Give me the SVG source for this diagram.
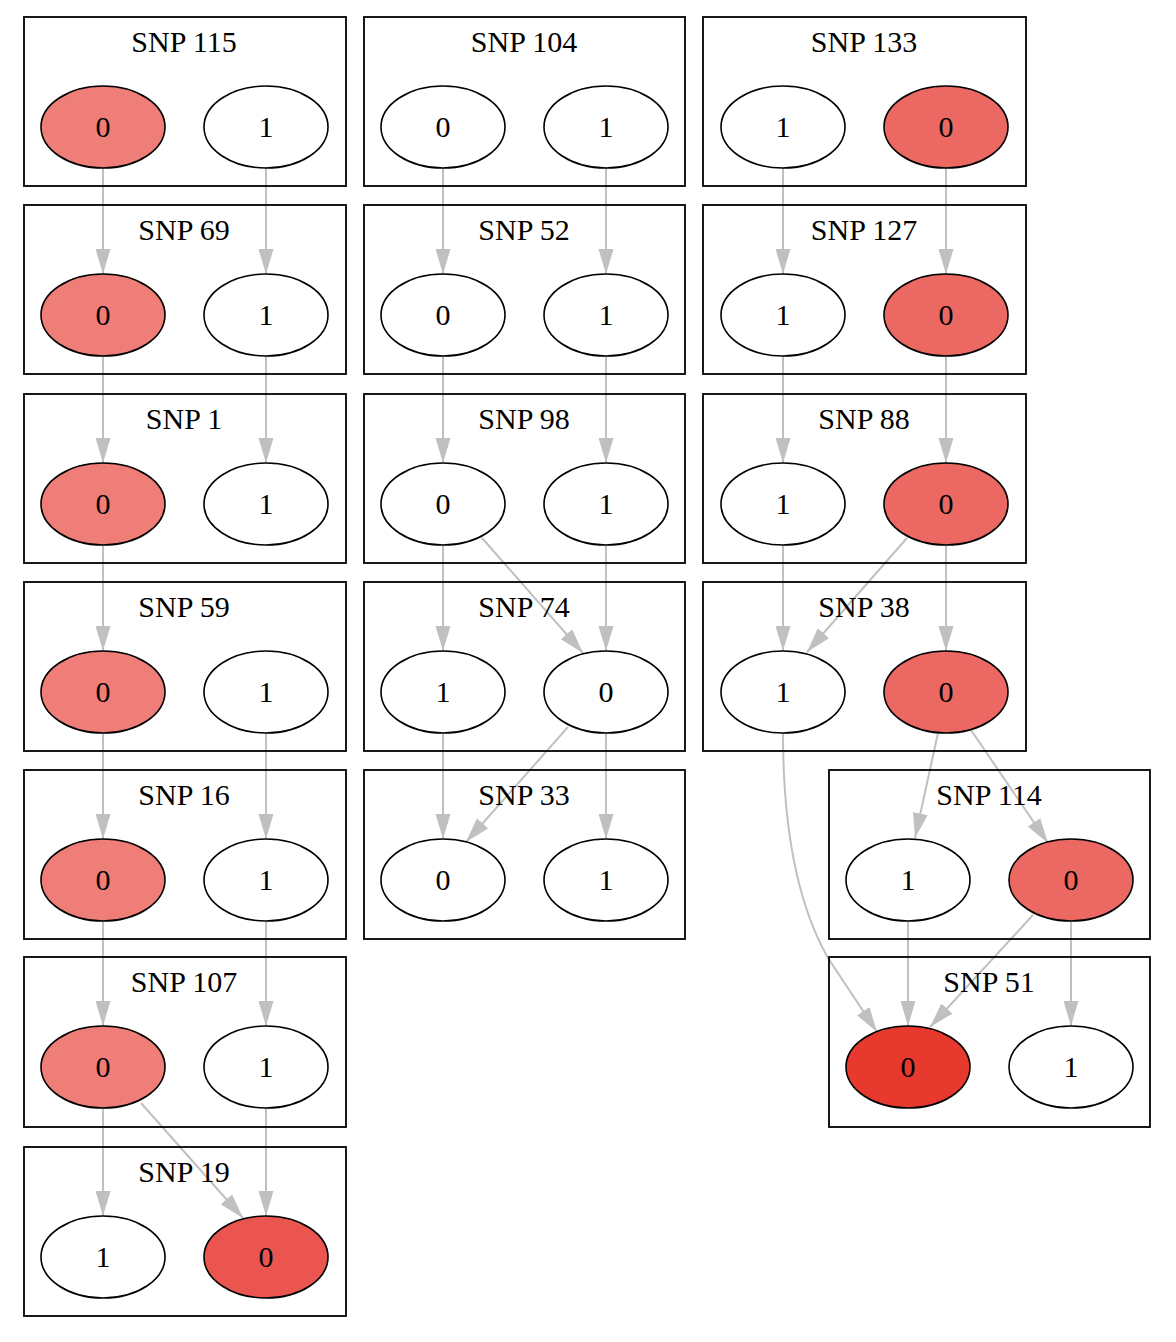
<svg xmlns="http://www.w3.org/2000/svg" width="1176" height="1342" viewBox="0 0 1176 1342">
<style>
.box{fill:none;stroke:#000;stroke-width:1.8}
.t{font-family:"Liberation Serif","Times New Roman",serif;font-size:30px;fill:#000;text-anchor:middle}
.n{stroke:#000;stroke-width:1.6}
.w{fill:#fff}
.a{fill:#EF7E79}
.b{fill:#EC6863}
.c{fill:#EB5550}
.d{fill:#E8392E}
.e{fill:none;stroke:#C0C0C0;stroke-width:2;marker-end:url(#ah)}
</style>
<defs>
<marker id="ah" markerUnits="userSpaceOnUse" markerWidth="25" markerHeight="16" refX="25" refY="8" orient="auto">
<path d="M0,0.5 L25,8 L0,15.5 z" fill="#C0C0C0"/>
</marker>
</defs>
<rect width="1176" height="1342" fill="#fff"/>
<g id="connectors">
<path class="e" d="M103,168 V274"/>
<path class="e" d="M266,168 V274"/>
<path class="e" d="M103,356 V463"/>
<path class="e" d="M266,356 V463"/>
<path class="e" d="M103,545 V651"/>
<path class="e" d="M103,733 V839"/>
<path class="e" d="M266,733 V839"/>
<path class="e" d="M103,921 V1026"/>
<path class="e" d="M266,921 V1026"/>
<path class="e" d="M103,1108 V1216"/>
<path class="e" d="M141,1103 L243,1218"/>
<path class="e" d="M266,1108 V1216"/>
<path class="e" d="M443,168 V274"/>
<path class="e" d="M606,168 V274"/>
<path class="e" d="M443,356 V463"/>
<path class="e" d="M606,356 V463"/>
<path class="e" d="M443,545 V651"/>
<path class="e" d="M482,538 L583,653"/>
<path class="e" d="M606,545 V651"/>
<path class="e" d="M443,733 V839"/>
<path class="e" d="M568,727 L466,842"/>
<path class="e" d="M606,733 V839"/>
<path class="e" d="M783,168 V274"/>
<path class="e" d="M946,168 V274"/>
<path class="e" d="M783,356 V463"/>
<path class="e" d="M946,356 V463"/>
<path class="e" d="M783,545 V651"/>
<path class="e" d="M907,538 L807,652"/>
<path class="e" d="M946,545 V651"/>
<path class="e" d="M938,733 L915,838"/>
<path class="e" d="M971,730 L1048,843"/>
<path class="e" d="M783,733 C783,820 795,900 828,958 L877,1032"/>
<path class="e" d="M908,921 V1026"/>
<path class="e" d="M1033,915 L930,1027"/>
<path class="e" d="M1071,921 V1026"/>
</g>
<g id="snp115">
<rect class="box" x="24" y="17" width="322" height="169"/>
<text class="t" x="184" y="52">SNP 115</text>
<ellipse class="n a" cx="103" cy="127" rx="62" ry="41"/><text class="t" x="103" y="137">0</text>
<ellipse class="n w" cx="266" cy="127" rx="62" ry="41"/><text class="t" x="266" y="137">1</text>
</g>
<g id="snp69">
<rect class="box" x="24" y="205" width="322" height="169"/>
<text class="t" x="184" y="240">SNP 69</text>
<ellipse class="n a" cx="103" cy="315" rx="62" ry="41"/><text class="t" x="103" y="325">0</text>
<ellipse class="n w" cx="266" cy="315" rx="62" ry="41"/><text class="t" x="266" y="325">1</text>
</g>
<g id="snp1">
<rect class="box" x="24" y="394" width="322" height="169"/>
<text class="t" x="184" y="429">SNP 1</text>
<ellipse class="n a" cx="103" cy="504" rx="62" ry="41"/><text class="t" x="103" y="514">0</text>
<ellipse class="n w" cx="266" cy="504" rx="62" ry="41"/><text class="t" x="266" y="514">1</text>
</g>
<g id="snp59">
<rect class="box" x="24" y="582" width="322" height="169"/>
<text class="t" x="184" y="617">SNP 59</text>
<ellipse class="n a" cx="103" cy="692" rx="62" ry="41"/><text class="t" x="103" y="702">0</text>
<ellipse class="n w" cx="266" cy="692" rx="62" ry="41"/><text class="t" x="266" y="702">1</text>
</g>
<g id="snp16">
<rect class="box" x="24" y="770" width="322" height="169"/>
<text class="t" x="184" y="805">SNP 16</text>
<ellipse class="n a" cx="103" cy="880" rx="62" ry="41"/><text class="t" x="103" y="890">0</text>
<ellipse class="n w" cx="266" cy="880" rx="62" ry="41"/><text class="t" x="266" y="890">1</text>
</g>
<g id="snp107">
<rect class="box" x="24" y="957" width="322" height="170"/>
<text class="t" x="184" y="992">SNP 107</text>
<ellipse class="n a" cx="103" cy="1067" rx="62" ry="41"/><text class="t" x="103" y="1077">0</text>
<ellipse class="n w" cx="266" cy="1067" rx="62" ry="41"/><text class="t" x="266" y="1077">1</text>
</g>
<g id="snp19">
<rect class="box" x="24" y="1147" width="322" height="169"/>
<text class="t" x="184" y="1182">SNP 19</text>
<ellipse class="n w" cx="103" cy="1257" rx="62" ry="41"/><text class="t" x="103" y="1267">1</text>
<ellipse class="n c" cx="266" cy="1257" rx="62" ry="41"/><text class="t" x="266" y="1267">0</text>
</g>
<g id="snp104">
<rect class="box" x="364" y="17" width="321" height="169"/>
<text class="t" x="524" y="52">SNP 104</text>
<ellipse class="n w" cx="443" cy="127" rx="62" ry="41"/><text class="t" x="443" y="137">0</text>
<ellipse class="n w" cx="606" cy="127" rx="62" ry="41"/><text class="t" x="606" y="137">1</text>
</g>
<g id="snp52">
<rect class="box" x="364" y="205" width="321" height="169"/>
<text class="t" x="524" y="240">SNP 52</text>
<ellipse class="n w" cx="443" cy="315" rx="62" ry="41"/><text class="t" x="443" y="325">0</text>
<ellipse class="n w" cx="606" cy="315" rx="62" ry="41"/><text class="t" x="606" y="325">1</text>
</g>
<g id="snp98">
<rect class="box" x="364" y="394" width="321" height="169"/>
<text class="t" x="524" y="429">SNP 98</text>
<ellipse class="n w" cx="443" cy="504" rx="62" ry="41"/><text class="t" x="443" y="514">0</text>
<ellipse class="n w" cx="606" cy="504" rx="62" ry="41"/><text class="t" x="606" y="514">1</text>
</g>
<g id="snp74">
<rect class="box" x="364" y="582" width="321" height="169"/>
<text class="t" x="524" y="617">SNP 74</text>
<ellipse class="n w" cx="443" cy="692" rx="62" ry="41"/><text class="t" x="443" y="702">1</text>
<ellipse class="n w" cx="606" cy="692" rx="62" ry="41"/><text class="t" x="606" y="702">0</text>
</g>
<g id="snp33">
<rect class="box" x="364" y="770" width="321" height="169"/>
<text class="t" x="524" y="805">SNP 33</text>
<ellipse class="n w" cx="443" cy="880" rx="62" ry="41"/><text class="t" x="443" y="890">0</text>
<ellipse class="n w" cx="606" cy="880" rx="62" ry="41"/><text class="t" x="606" y="890">1</text>
</g>
<g id="snp133">
<rect class="box" x="703" y="17" width="323" height="169"/>
<text class="t" x="864" y="52">SNP 133</text>
<ellipse class="n w" cx="783" cy="127" rx="62" ry="41"/><text class="t" x="783" y="137">1</text>
<ellipse class="n b" cx="946" cy="127" rx="62" ry="41"/><text class="t" x="946" y="137">0</text>
</g>
<g id="snp127">
<rect class="box" x="703" y="205" width="323" height="169"/>
<text class="t" x="864" y="240">SNP 127</text>
<ellipse class="n w" cx="783" cy="315" rx="62" ry="41"/><text class="t" x="783" y="325">1</text>
<ellipse class="n b" cx="946" cy="315" rx="62" ry="41"/><text class="t" x="946" y="325">0</text>
</g>
<g id="snp88">
<rect class="box" x="703" y="394" width="323" height="169"/>
<text class="t" x="864" y="429">SNP 88</text>
<ellipse class="n w" cx="783" cy="504" rx="62" ry="41"/><text class="t" x="783" y="514">1</text>
<ellipse class="n b" cx="946" cy="504" rx="62" ry="41"/><text class="t" x="946" y="514">0</text>
</g>
<g id="snp38">
<rect class="box" x="703" y="582" width="323" height="169"/>
<text class="t" x="864" y="617">SNP 38</text>
<ellipse class="n w" cx="783" cy="692" rx="62" ry="41"/><text class="t" x="783" y="702">1</text>
<ellipse class="n b" cx="946" cy="692" rx="62" ry="41"/><text class="t" x="946" y="702">0</text>
</g>
<g id="snp114">
<rect class="box" x="829" y="770" width="321" height="169"/>
<text class="t" x="989" y="805">SNP 114</text>
<ellipse class="n w" cx="908" cy="880" rx="62" ry="41"/><text class="t" x="908" y="890">1</text>
<ellipse class="n b" cx="1071" cy="880" rx="62" ry="41"/><text class="t" x="1071" y="890">0</text>
</g>
<g id="snp51">
<rect class="box" x="829" y="957" width="321" height="170"/>
<text class="t" x="989" y="992">SNP 51</text>
<ellipse class="n d" cx="908" cy="1067" rx="62" ry="41"/><text class="t" x="908" y="1077">0</text>
<ellipse class="n w" cx="1071" cy="1067" rx="62" ry="41"/><text class="t" x="1071" y="1077">1</text>
</g>
</svg>
